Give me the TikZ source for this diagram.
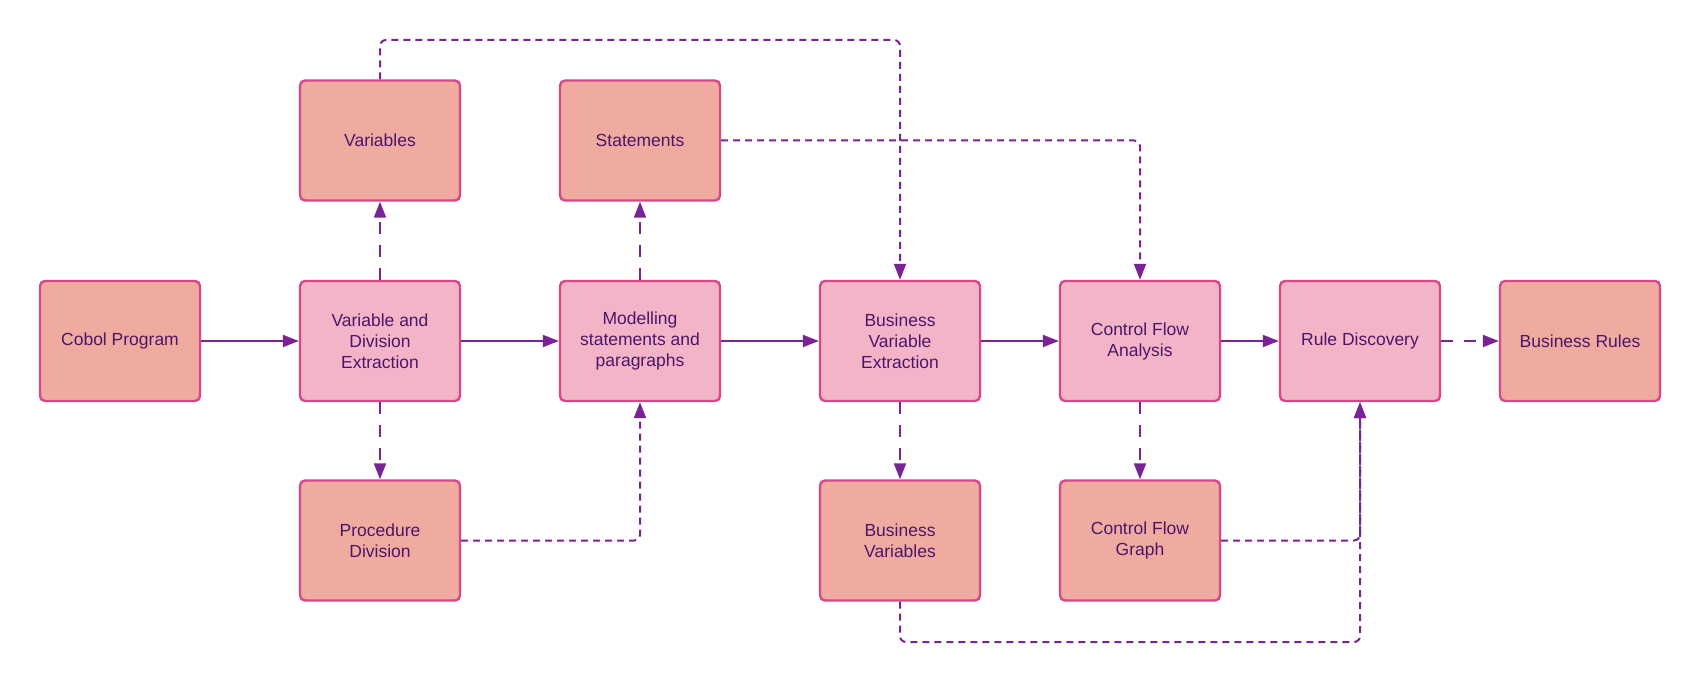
\documentclass[tikz,border=0pt]{standalone}
\usepackage{fontspec}
\setmainfont{Liberation Sans}
\usetikzlibrary{arrows.meta}
\definecolor{datafill}{HTML}{F0ABA0}
\definecolor{procfill}{HTML}{F4B4C7}
\definecolor{boxline}{HTML}{D9478A}
\definecolor{arrowc}{HTML}{7A2395}
\definecolor{txtc}{HTML}{4B1669}
\tikzset{
  basebox/.style={rectangle, rounded corners=5pt, minimum width=160pt, minimum height=120pt,
    draw=boxline, line width=2.4pt, align=center, text=txtc,
    font=\fontsize{17.5pt}{21pt}\selectfont, inner sep=2pt},
  databox/.style={basebox, fill=datafill},
  procbox/.style={basebox, fill=procfill},
  conn/.style={draw=arrowc, line width=2pt, -{Triangle[length=16pt,width=12pt]}},
  longdash/.style={conn, dash pattern=on 7pt off 5pt, rounded corners=6pt},
  shortdash/.style={conn, dash pattern=on 12pt off 11pt},
}
\begin{document}
\begin{tikzpicture}[x=1pt,y=-1pt]
\useasboundingbox (0,0) rectangle (1700,682);
% main row
\node[databox] (cobol) at (120,341) {Cobol Program};
\node[procbox] (vde) at (380,341) {Variable and\\Division\\Extraction};
\node[procbox] (mod) at (640,341) {Modelling\\statements and\\paragraphs};
\node[procbox] (bve) at (900,341) {Business\\Variable\\Extraction};
\node[procbox] (cfa) at (1140,341) {Control Flow\\Analysis};
\node[procbox] (rd) at (1360,341) {Rule Discovery};
\node[databox] (br) at (1580,341) {Business Rules};
% top row
\node[databox] (var) at (380,140.5) {Variables};
\node[databox] (stm) at (640,140.5) {Statements};
% bottom row
\node[databox] (pd) at (380,540.5) {Procedure\\Division};
\node[databox] (bv) at (900,540.5) {Business\\Variables};
\node[databox] (cfg) at (1140,540.5) {Control Flow\\Graph};
% routing levels
\coordinate (top) at (0,40);
\coordinate (bot) at (0,642);
% solid flow
\draw[conn] (cobol) -- (vde);
\draw[conn] (vde) -- (mod);
\draw[conn] (mod) -- (bve);
\draw[conn] (bve) -- (cfa);
\draw[conn] (cfa) -- (rd);
\draw[shortdash] (rd) -- (br);
% short dashed
\draw[shortdash] (vde) -- (var);
\draw[shortdash] (vde) -- (pd);
\draw[shortdash] (mod) -- (stm);
\draw[shortdash] (bve) -- (bv);
\draw[shortdash] (cfa) -- (cfg);
% long dashed routes
\draw[longdash] (var.north) -- (var.north |- top) -- (bve.north |- top) -- (bve.north);
\draw[longdash] (stm.east) -| (cfa.north);
\draw[longdash] (pd.east) -| (mod.south);
\draw[longdash] (cfg.east) -| (rd.south);
\draw[longdash] (bv.south) -- (bv.south |- bot) -- (rd.south |- bot) -- (rd.south);
\end{tikzpicture}
\end{document}
